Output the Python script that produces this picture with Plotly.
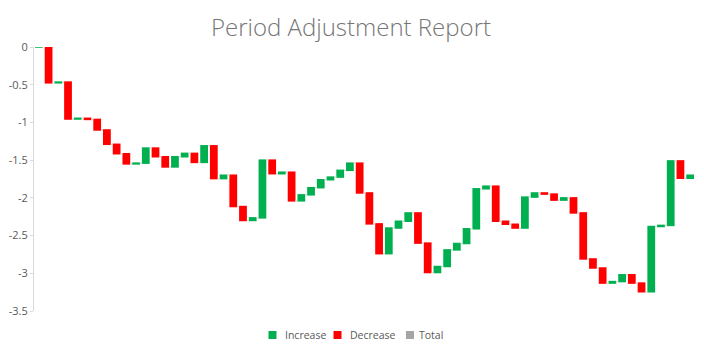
import plotly.graph_objects as go

periods = list(range(1, 69))
deltas = [
    0.01, -0.485, 0.01, -0.49, 0.01, -0.015, -0.14, -0.19, -0.125, -0.135,
    0.01, 0.20, -0.115, -0.135, 0.135, 0.045, -0.12, 0.22, -0.435, 0.045,
    -0.415, -0.185, 0.035, 0.765, -0.18, 0.02, -0.38, 0.08, 0.095, 0.105,
    0.035, 0.09, 0.095, -0.395, -0.41, -0.395, 0.34, 0.09, 0.11, -0.40,
    -0.39, 0.08, 0.22, 0.085, 0.195, 0.53, 0.035, -0.465, -0.04, -0.05,
    0.41, 0.055, -0.015, -0.08, 0.03, -0.20, -0.61, -0.12, -0.20, 0.02,
    0.09, -0.11, -0.115, 0.865, 0.015, 0.855, -0.23, 0.04,
]
measures = ["relative"] * len(deltas)
y_ticks = [0, -0.5, -1, -1.5, -2, -2.5, -3, -3.5]
y_tick_labels = ["0", "-0.5", "-1", "-1.5", "-2", "-2.5", "-3", "-3.5"]
legend_names = ["Increase", "Decrease", "Total"]
legend_colors = ["#00B050", "#FF0000", "#A5A5A5"]

# layout geometry (pixels inside the figure)
W, H = 704, 359
L, R, T, B = 26, 17, 39, 56
PW, PH = W - L - R, H - T - B
legend_square_px = [264.5, 329.5, 402.0]   # square centres
legend_text_px = [275.0, 340.3, 408.7]     # text left edges
legend_y_px = 327.0


def px_to_paper_x(px):
    return (px - L) / PW


def px_to_paper_y(py):
    return (H - B - py) / PH


fig = go.Figure()
fig.add_trace(go.Waterfall(
    x=periods, y=deltas, measure=measures,
    increasing=dict(marker=dict(color=legend_colors[0])),
    decreasing=dict(marker=dict(color=legend_colors[1])),
    totals=dict(marker=dict(color=legend_colors[2])),
    connector=dict(line=dict(color="#D9D9D9", width=1.5), mode="between"),
    showlegend=False, hoverinfo="x+y", name="Adjustment",
    cliponaxis=False,
))

shapes, annotations = [], []
half_sq = 4.0
for name, color, sx, tx in zip(legend_names, legend_colors, legend_square_px, legend_text_px):
    shapes.append(dict(
        type="rect", xref="paper", yref="paper",
        x0=px_to_paper_x(sx - half_sq), x1=px_to_paper_x(sx + half_sq),
        y0=px_to_paper_y(legend_y_px + half_sq), y1=px_to_paper_y(legend_y_px - half_sq),
        fillcolor=color, line=dict(width=0),
    ))
    annotations.append(dict(
        text=name, xref="paper", yref="paper",
        x=px_to_paper_x(tx), y=px_to_paper_y(legend_y_px),
        xanchor="left", yanchor="middle", showarrow=False,
        font=dict(family="Open Sans", size=10.5, color="#595959"),
    ))

fig.update_layout(
    width=W, height=H,
    margin=dict(l=L, r=R, t=T, b=B, autoexpand=False),
    paper_bgcolor="white", plot_bgcolor="white",
    title=dict(text="Period Adjustment Report", x=0.4872, xanchor="center",
               xref="container", yref="container",
               y=0.9457, yanchor="middle",
               font=dict(family="Open Sans", size=24, color="#767676", weight=300)),
    font=dict(family="Open Sans", size=11, color="#595959"),
    bargap=0.42,
    showlegend=False,
    shapes=shapes,
    annotations=annotations,
    xaxis=dict(range=[0.5, 68.5], showticklabels=False, showgrid=False,
               zeroline=False, showline=False, ticks="", automargin=False),
    yaxis=dict(range=[-3.5, 0], tickvals=y_ticks, ticktext=y_tick_labels,
               showgrid=False, zeroline=False, showline=True, linecolor="#D9D9D9",
               linewidth=1, ticks="outside", ticklen=3, tickcolor="#D9D9D9",
               automargin=False,
               tickfont=dict(size=11, color="#595959")),
)

fig.write_html("out.html")
